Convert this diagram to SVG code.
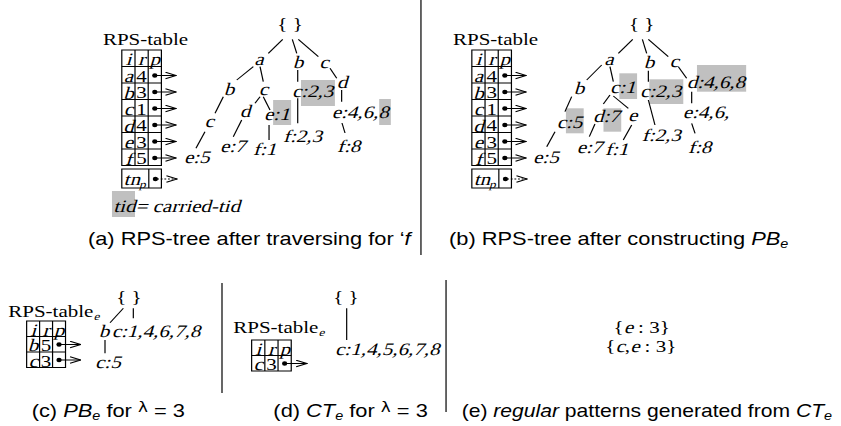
<svg xmlns="http://www.w3.org/2000/svg" width="841" height="426" viewBox="0 0 841 426">
<style>
.s{font-family:"Liberation Serif","Times New Roman",serif;font-size:17.5px;fill:#000;font-style:normal}
.m{text-anchor:middle}
.sub{font-size:11px}
.cap{font-family:"Liberation Sans",Arial,sans-serif;font-size:18.2px;fill:#000}
.ln line{stroke:#000;stroke-width:1;fill:none}
.tb{fill:none;stroke:#000;stroke-width:1}
.hl{fill:#c0c0c0}
.dot{fill:#000}
.ar{marker-end:url(#ar)}
.dt{stroke-dasharray:1.5 1.5}
</style>
<defs>
<marker id="ar" viewBox="0 0 10 8" refX="9.3" refY="4" markerWidth="10" markerHeight="8" markerUnits="userSpaceOnUse" orient="auto">
<path d="M0.5,0.7 L9.3,4 L0.5,7.3" fill="none" stroke="#000" stroke-width="1"/>
</marker>
</defs>
<rect width="841" height="426" fill="#fff"/>
<g transform="scale(1.2,1)">

<g id="dividers" class="ln">
<line x1="350.8" y1="0" x2="350.8" y2="255"/>
<line x1="185" y1="283" x2="185" y2="393"/>
<line x1="371.7" y1="280" x2="371.7" y2="412"/>
</g>

<!-- Panel (a) table -->
<g id="tableA">
<text class="s" x="85.8" y="45">RPS-table</text>
<rect class="tb" x="101.5" y="50" width="33" height="115.5"/>
<g class="ln">
<line x1="112.5" y1="50" x2="112.5" y2="165.5"/><line x1="123.5" y1="50" x2="123.5" y2="165.5"/>
<line x1="101.5" y1="66.5" x2="134.5" y2="66.5"/><line x1="101.5" y1="83" x2="134.5" y2="83"/>
<line x1="101.5" y1="99.5" x2="134.5" y2="99.5"/><line x1="101.5" y1="116" x2="134.5" y2="116"/>
<line x1="101.5" y1="132.5" x2="134.5" y2="132.5"/><line x1="101.5" y1="149" x2="134.5" y2="149"/>
</g>
<g class="s m">
<text transform="translate(107,65) skewX(-14)">i</text><text transform="translate(118,65) skewX(-14)">r</text><text transform="translate(129,65) skewX(-14)">p</text>
<text transform="translate(107,82) skewX(-14)">a</text><text x="118" y="82">4</text>
<text transform="translate(107,98.5) skewX(-14)">b</text><text x="118" y="98.5">3</text>
<text transform="translate(107,115) skewX(-14)">c</text><text x="118" y="115">1</text>
<text transform="translate(107,131.5) skewX(-14)">d</text><text x="118" y="131.5">4</text>
<text transform="translate(107,148) skewX(-14)">e</text><text x="118" y="148">3</text>
<text transform="translate(107,164.5) skewX(-14)">f</text><text x="118" y="164.5">5</text>
</g>
<g class="dot">
<circle cx="129" cy="75.5" r="2.2"/><circle cx="129" cy="92" r="2.2"/><circle cx="129" cy="108.5" r="2.2"/>
<circle cx="129" cy="125" r="2.2"/><circle cx="129" cy="141.5" r="2.2"/><circle cx="129" cy="158" r="2.2"/>
</g>
<rect class="tb" x="101.5" y="169" width="33" height="19"/>
<line x1="124" y1="169" x2="124" y2="188" stroke="#000"/>
<text class="s" transform="translate(103,185) skewX(-14)">tn<tspan class="sub" dy="3">p</tspan></text>
<circle class="dot" cx="129.5" cy="179" r="2.2"/>
</g>
<g id="legendA">
<rect class="hl" x="93.3" y="191" width="19.2" height="26"/>
<text class="s" transform="translate(94.4,211.5) skewX(-14)">tid= carried-tid</text>
</g>

<!-- Panel (a) tree nodes -->
<g id="treeA" class="s">
<g id="a-root"><text class="m" x="241.7" y="30">{ }</text></g>
<g id="a-a"><text class="m" transform="translate(215.8,65) skewX(-14)">a</text></g>
<g id="a-b"><text class="m" transform="translate(248.3,68) skewX(-14)">b</text></g>
<g id="a-c"><text class="m" transform="translate(270,68) skewX(-14)">c</text></g>
<g id="a-ab"><text class="m" transform="translate(190.8,95) skewX(-14)">b</text></g>
<g id="a-ac"><text class="m" transform="translate(219.6,95) skewX(-14)">c</text></g>
<g id="a-bc"><rect class="hl" x="250.8" y="80" width="28.3" height="26"/><text transform="translate(243.3,96.7) skewX(-14)">c:2,3</text></g>
<g id="a-cd"><text class="m" transform="translate(285,88) skewX(-14)">d</text></g>
<g id="a-abc"><text class="m" transform="translate(174.2,126.7) skewX(-14)">c</text></g>
<g id="a-acd"><text class="m" transform="translate(204.2,116.7) skewX(-14)">d</text></g>
<g id="a-ace"><rect class="hl" x="227.6" y="100" width="15" height="25"/><text transform="translate(220,120) skewX(-14)">e:1</text></g>
<g id="a-cde"><rect class="hl" x="316" y="99" width="9.7" height="26"/><text transform="translate(276.4,118.3) skewX(-14)">e:4,6,8</text></g>
<g id="a-abce"><text transform="translate(153.3,163.3) skewX(-14)">e:5</text></g>
<g id="a-acde"><text transform="translate(183.3,151.7) skewX(-14)">e:7</text></g>
<g id="a-acef"><text transform="translate(210.8,155) skewX(-14)">f:1</text></g>
<g id="a-bcf"><text transform="translate(235.8,141.5) skewX(-14)">f:2,3</text></g>
<g id="a-cdef"><text transform="translate(280.8,152) skewX(-14)">f:8</text></g>
</g>

<!-- Panel (b) table -->
<g id="tableB" transform="translate(291.7,0)">
<text class="s" x="85.8" y="45">RPS-table</text>
<rect class="tb" x="101.5" y="50" width="33" height="115.5"/>
<g class="ln">
<line x1="112.5" y1="50" x2="112.5" y2="165.5"/><line x1="123.5" y1="50" x2="123.5" y2="165.5"/>
<line x1="101.5" y1="66.5" x2="134.5" y2="66.5"/><line x1="101.5" y1="83" x2="134.5" y2="83"/>
<line x1="101.5" y1="99.5" x2="134.5" y2="99.5"/><line x1="101.5" y1="116" x2="134.5" y2="116"/>
<line x1="101.5" y1="132.5" x2="134.5" y2="132.5"/><line x1="101.5" y1="149" x2="134.5" y2="149"/>
</g>
<g class="s m">
<text transform="translate(107,65) skewX(-14)">i</text><text transform="translate(118,65) skewX(-14)">r</text><text transform="translate(129,65) skewX(-14)">p</text>
<text transform="translate(107,82) skewX(-14)">a</text><text x="118" y="82">4</text>
<text transform="translate(107,98.5) skewX(-14)">b</text><text x="118" y="98.5">3</text>
<text transform="translate(107,115) skewX(-14)">c</text><text x="118" y="115">1</text>
<text transform="translate(107,131.5) skewX(-14)">d</text><text x="118" y="131.5">4</text>
<text transform="translate(107,148) skewX(-14)">e</text><text x="118" y="148">3</text>
<text transform="translate(107,164.5) skewX(-14)">f</text><text x="118" y="164.5">5</text>
</g>
<g class="dot">
<circle cx="129" cy="75.5" r="2.2"/><circle cx="129" cy="92" r="2.2"/><circle cx="129" cy="108.5" r="2.2"/>
<circle cx="129" cy="125" r="2.2"/><circle cx="129" cy="141.5" r="2.2"/><circle cx="129" cy="158" r="2.2"/>
</g>
<rect class="tb" x="101.5" y="169" width="33" height="19"/>
<line x1="124" y1="169" x2="124" y2="188" stroke="#000"/>
<text class="s" transform="translate(103,185) skewX(-14)">tn<tspan class="sub" dy="3">p</tspan></text>
<circle class="dot" cx="129.5" cy="179" r="2.2"/>
</g>

<!-- Panel (b) tree nodes -->
<g id="treeB" class="s">
<g id="b-root"><text class="m" x="534.7" y="30">{ }</text></g>
<g id="b-a"><text class="m" transform="translate(507.5,65) skewX(-14)">a</text></g>
<g id="b-b"><text class="m" transform="translate(540.8,68) skewX(-14)">b</text></g>
<g id="b-c"><text class="m" transform="translate(561.7,67) skewX(-14)">c</text></g>
<g id="b-ab"><text class="m" transform="translate(482.5,94) skewX(-14)">b</text></g>
<g id="b-ac"><rect class="hl" x="516.1" y="73.3" width="14.8" height="25.7"/><text transform="translate(508.3,93) skewX(-14)">c:1</text></g>
<g id="b-bc"><rect class="hl" x="541.1" y="79.3" width="28.3" height="24.7"/><text transform="translate(533.3,96.7) skewX(-14)">c:2,3</text></g>
<g id="b-cd"><rect class="hl" x="580.8" y="65" width="41" height="26.7"/><text transform="translate(572.2,88) skewX(-14)">d:4,6,8</text></g>
<g id="b-abc"><rect class="hl" x="471.6" y="108.3" width="14.8" height="25"/><text transform="translate(463.9,128.3) skewX(-14)">c:5</text></g>
<g id="b-acd"><rect class="hl" x="502.9" y="108.3" width="14.8" height="23.4"/><text transform="translate(494.2,121.7) skewX(-14)">d:7</text></g>
<g id="b-ace"><text transform="translate(523.3,120.7) skewX(-14)">e</text></g>
<g id="b-cde"><text transform="translate(568.9,118) skewX(-14)">e:4,6,</text></g>
<g id="b-abce"><text transform="translate(444.2,163.3) skewX(-14)">e:5</text></g>
<g id="b-acde"><text transform="translate(480.6,153.3) skewX(-14)">e:7</text></g>
<g id="b-acef"><text transform="translate(504.2,155) skewX(-14)">f:1</text></g>
<g id="b-bcf"><text transform="translate(534.7,141) skewX(-14)">f:2,3</text></g>
<g id="b-cdef"><text transform="translate(573.3,153) skewX(-14)">f:8</text></g>
</g>

<!-- Panel (c) -->
<g id="tableC">
<text class="s" x="6.9" y="316.7">RPS-table</text>
<text class="s sub" transform="translate(78,319.7) skewX(-14)">e</text>
<rect class="tb" x="22.2" y="321" width="32.4" height="46.5"/>
<g class="ln">
<line x1="33" y1="321" x2="33" y2="367.5"/><line x1="43.8" y1="321" x2="43.8" y2="367.5"/>
<line x1="22.2" y1="336.5" x2="54.6" y2="336.5"/><line x1="22.2" y1="352" x2="54.6" y2="352"/>
</g>
<g class="s m">
<text transform="translate(27.6,335.5) skewX(-14)">i</text><text transform="translate(38.4,335.5) skewX(-14)">r</text><text transform="translate(49.2,335.5) skewX(-14)">p</text>
<text transform="translate(27.6,351) skewX(-14)">b</text><text x="38.4" y="351">5</text>
<text transform="translate(27.6,366.5) skewX(-14)">c</text><text x="38.4" y="366.5">3</text>
</g>
<circle class="dot" cx="49.2" cy="344.5" r="2.2"/><circle class="dot" cx="49.2" cy="360" r="2.2"/>
</g>
<g id="treeC" class="s">
<g id="c-root"><text class="m" x="107.5" y="303">{ }</text></g>
<g id="c-b"><text class="m" transform="translate(86.7,336.7) skewX(-14)">b</text></g>
<g id="c-c"><text transform="translate(93.1,336.7) skewX(-14)">c:1,4,6,7,8</text></g>
<g id="c-bc"><text transform="translate(79.2,367.7) skewX(-14)">c:5</text></g>
</g>

<!-- Panel (d) -->
<g id="tableD">
<text class="s" x="194.4" y="332.7">RPS-table</text>
<text class="s sub" transform="translate(265.5,335.7) skewX(-14)">e</text>
<rect class="tb" x="209.7" y="340" width="33" height="31"/>
<g class="ln">
<line x1="220.7" y1="340" x2="220.7" y2="371"/><line x1="231.7" y1="340" x2="231.7" y2="371"/>
<line x1="209.7" y1="355.5" x2="242.7" y2="355.5"/>
</g>
<g class="s m">
<text transform="translate(215.2,354.5) skewX(-14)">i</text><text transform="translate(226.2,354.5) skewX(-14)">r</text><text transform="translate(237.2,354.5) skewX(-14)">p</text>
<text transform="translate(215.2,370) skewX(-14)">c</text><text x="226.2" y="370">3</text>
</g>
<circle class="dot" cx="237.2" cy="363.5" r="2.2"/>
</g>
<g id="treeD" class="s">
<g id="d-root"><text class="m" x="288.2" y="303">{ }</text></g>
<g id="d-c"><text transform="translate(279.2,355) skewX(-14)">c:1,4,5,6,7,8</text></g>
</g>

<!-- Panel (e) -->
<g id="patterns" class="s">
<g id="p1">
<text x="511.2" y="333.3">{</text>
<text transform="translate(519.8,333.3) skewX(-14)">e</text>
<text x="527.4" y="333.3" xml:space="preserve"> : 3}</text>
</g>
<g id="p2">
<text x="504.4" y="351.7">{</text>
<text transform="translate(513,351.7) skewX(-14)">c</text>
<text x="520.6" y="351.7">,</text>
<text transform="translate(525.2,351.7) skewX(-14)">e</text>
<text x="532.8" y="351.7" xml:space="preserve"> : 3}</text>
</g>
</g>

<!-- connectors -->
<g id="connectors" class="ln">
<line class="ar" x1="129" y1="75.5" x2="146.7" y2="75.5"/>
<line class="ar" x1="129" y1="92" x2="146.7" y2="92"/>
<line class="ar" x1="129" y1="108.5" x2="146.7" y2="108.5"/>
<line class="ar" x1="129" y1="125" x2="146.7" y2="125"/>
<line class="ar" x1="129" y1="141.5" x2="146.7" y2="141.5"/>
<line class="ar" x1="129" y1="158" x2="146.7" y2="158"/>
<line class="ar dt" x1="131" y1="179" x2="147.5" y2="179"/>
<line class="ar" x1="420.7" y1="75.5" x2="438.4" y2="75.5"/>
<line class="ar" x1="420.7" y1="92" x2="438.4" y2="92"/>
<line class="ar" x1="420.7" y1="108.5" x2="438.4" y2="108.5"/>
<line class="ar" x1="420.7" y1="125" x2="438.4" y2="125"/>
<line class="ar" x1="420.7" y1="141.5" x2="438.4" y2="141.5"/>
<line class="ar" x1="420.7" y1="158" x2="438.4" y2="158"/>
<line class="ar dt" x1="422.7" y1="179" x2="439.2" y2="179"/>
<line class="ar" x1="49.2" y1="344.5" x2="67.2" y2="344.5"/>
<line class="ar" x1="49.2" y1="360" x2="67.2" y2="360"/>
<line class="ar" x1="237.2" y1="363.5" x2="255.6" y2="363.5"/>
<line x1="235.6" y1="39.3" x2="223.6" y2="53.3"/>
<line x1="243.6" y1="39.3" x2="247.3" y2="53.3"/>
<line x1="248.6" y1="39.3" x2="265.3" y2="56.7"/>
<line x1="211.1" y1="66.7" x2="197.3" y2="80"/>
<line x1="216.7" y1="66.7" x2="219.4" y2="81.7"/>
<line x1="248.1" y1="70" x2="248.1" y2="81.7"/>
<line x1="275" y1="68.3" x2="280.6" y2="78.3"/>
<line x1="186.1" y1="96.7" x2="179.2" y2="113.3"/>
<line x1="216.7" y1="96.7" x2="212.5" y2="103.3"/>
<line x1="219.4" y1="96.7" x2="225" y2="110"/>
<line x1="248.1" y1="98.3" x2="248.1" y2="123.3"/>
<line x1="284.7" y1="90" x2="284.7" y2="101.7"/>
<line x1="170.8" y1="131.7" x2="163.3" y2="148.3"/>
<line x1="201.4" y1="120" x2="194.4" y2="136.7"/>
<line x1="224.2" y1="125" x2="224.2" y2="140"/>
<line x1="285" y1="123" x2="287.5" y2="133"/>
<line x1="527.3" y1="39.3" x2="515.3" y2="53.3"/>
<line x1="535.3" y1="39.3" x2="538.9" y2="53.3"/>
<line x1="540.3" y1="39.3" x2="556.9" y2="56.7"/>
<line x1="501.4" y1="65" x2="488.9" y2="80"/>
<line x1="508.3" y1="66.7" x2="511.1" y2="81.7"/>
<line x1="540.3" y1="70.7" x2="540.3" y2="81.7"/>
<line x1="565.3" y1="66.7" x2="572.2" y2="78.3"/>
<line x1="476.4" y1="96.7" x2="470.8" y2="111.7"/>
<line x1="462.5" y1="131.7" x2="455.6" y2="146.7"/>
<line x1="508.3" y1="95" x2="502.8" y2="104"/>
<line x1="511.1" y1="96" x2="523.6" y2="108.3"/>
<line x1="495.8" y1="124" x2="491.1" y2="136.7"/>
<line x1="526.4" y1="125" x2="519.4" y2="140"/>
<line x1="540.3" y1="100" x2="545.8" y2="125"/>
<line x1="576.4" y1="91.7" x2="576.4" y2="103.3"/>
<line x1="576.4" y1="123.3" x2="579.2" y2="133.3"/>
<line x1="102.8" y1="308.3" x2="91.7" y2="322.7"/>
<line x1="111.1" y1="308.3" x2="111.1" y2="318.3"/>
<line x1="87.5" y1="340" x2="87.5" y2="353.3"/>
<line x1="288.9" y1="308.3" x2="288.9" y2="340"/>
</g>

<g id="captions" class="cap">
<text x="73.3" y="245">(a) RPS-tree after traversing for ‘<tspan font-style="italic">f</tspan></text>
<text x="374.2" y="245">(b) RPS-tree after constructing <tspan font-style="italic">PB</tspan><tspan font-style="italic" font-size="12" dy="3">e</tspan></text>
<text x="26.4" y="417">(c) <tspan font-style="italic">PB</tspan><tspan font-style="italic" font-size="12" dy="3">e</tspan><tspan dy="-3"> for </tspan><tspan font-family="DejaVu Sans" font-size="14" dy="-5">λ</tspan><tspan dy="5"> = 3</tspan></text>
<text x="227.8" y="417">(d) <tspan font-style="italic">CT</tspan><tspan font-style="italic" font-size="12" dy="3">e</tspan><tspan dy="-3"> for </tspan><tspan font-family="DejaVu Sans" font-size="14" dy="-5">λ</tspan><tspan dy="5"> = 3</tspan></text>
<text x="384.7" y="417" font-size="17.6">(e) <tspan font-style="italic">regular</tspan> patterns generated from <tspan font-style="italic">CT</tspan><tspan font-style="italic" font-size="12" dy="3">e</tspan></text>
</g>
</g>
</svg>
